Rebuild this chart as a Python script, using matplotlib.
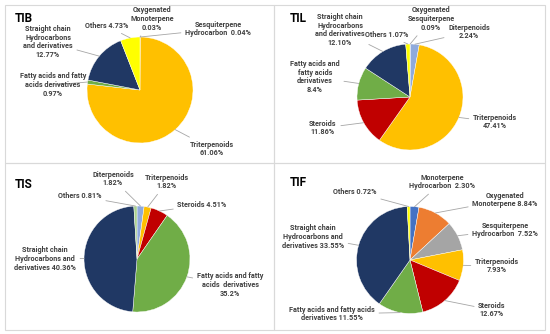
import matplotlib.pyplot as plt
from matplotlib.patches import Rectangle
import math

plt.rcParams['font.family'] = ['Roboto', 'DejaVu Sans']

# colours used in the charts
NAVY = '#203864'
GOLD = '#FFC000'
GREEN = '#70AD47'
RED = '#C00000'
YELLOW = '#FFFF00'
LBLUE = '#8FAADC'
ORANGE = '#ED7D31'
GRAY = '#A5A5A5'
MBLUE = '#4472C4'
LGREEN = '#A9D18E'

# TIB
tib_labels = ['Oxygenated\nMonoterpene\n0.03%', 'Sesquiterpene\nHydrocarbon  0.04%',
              'Triterpenoids\n61.06%', 'Fatty acids and fatty\nacids derivatives\n0.97%',
              'Straight chain\nHydrocarbons\nand derivatives\n12.77%', 'Others 4.73%']
tib_values = [0.03, 0.04, 61.06, 0.97, 12.77, 4.73]
tib_colors = [ORANGE, GRAY, GOLD, GREEN, NAVY, YELLOW]

# TIL
til_labels = ['Oxygenated\nSesquiterpene\n0.09%', 'Diterpenoids\n2.24%', 'Triterpenoids\n47.41%',
              'Steroids\n11.86%', 'Fatty acids and\nfatty acids\nderivatives\n8.4%',
              'Straight chain\nHydrocarbons\nand derivatives\n12.10%', 'Others 1.07%']
til_values = [0.09, 2.24, 47.41, 11.86, 8.4, 12.10, 1.07]
til_colors = [GRAY, LBLUE, GOLD, RED, GREEN, NAVY, YELLOW]

# TIS
tis_labels = ['Diterpenoids\n1.82%', 'Triterpenoids\n1.82%', 'Steroids 4.51%',
              'Fatty acids and fatty\nacids  derivatives\n35.2%',
              'Straight chain\nHydrocarbons and\nderivatives 40.36%', 'Others 0.81%']
tis_values = [1.82, 1.82, 4.51, 35.2, 40.36, 0.81]
tis_colors = [LBLUE, GOLD, RED, GREEN, NAVY, LGREEN]

# TIF
tif_labels = ['Monoterpene\nHydrocarbon  2.30%', 'Oxygenated\nMonoterpene 8.84%',
              'Sesquiterpene\nHydrocarbon  7.52%', 'Triterpenoids\n7.93%', 'Steroids\n12.67%',
              'Fatty acids and fatty acids\nderivatives 11.55%',
              'Straight chain\nHydrocarbons and\nderivatives 33.55%', 'Others 0.72%']
tif_values = [2.30, 8.84, 7.52, 7.93, 12.67, 11.55, 33.55, 0.72]
tif_colors = [MBLUE, ORANGE, GRAY, GOLD, RED, GREEN, NAVY, YELLOW]

W, H = 550, 334
fig = plt.figure(figsize=(5.5, 3.34), dpi=100)
ax = fig.add_axes([0, 0, 1, 1])

def draw_panel(title, title_xy, labels, values, colors, center, r, label_xy):
    cx, cy = center[0], H - center[1]
    ax.pie(values, colors=colors, startangle=90, counterclock=False,
           center=(cx, cy), radius=r, frame=True,
           wedgeprops=dict(edgecolor='white', linewidth=0.3))
    ax.text(title_xy[0], H - title_xy[1], title, fontsize=8.5, fontweight='bold',
            color='black', ha='left', va='center')
    total = sum(values)
    cum = 0
    for lab, v, (tx, ty) in zip(labels, values, label_xy):
        frac = v / total
        ang = math.radians(90 - 360 * (cum + frac / 2))
        cum += frac
        px = cx + r * math.cos(ang)
        py = cy + r * math.sin(ang)
        ax.annotate(lab, xy=(px, py), xytext=(tx, H - ty), fontsize=5.2,
                    fontweight='bold', color='#404040', ha='center', va='center',
                    multialignment='center', linespacing=1.15,
                    arrowprops=dict(arrowstyle='-', color='#A6A6A6', lw=0.6,
                                    shrinkA=1, shrinkB=0))

draw_panel('TIB', (15, 18), tib_labels, tib_values, tib_colors, (140, 90), 53,
           [(152, 19), (218, 29), (212, 149), (53, 85), (48, 42), (107, 26)])
draw_panel('TIL', (290, 18), til_labels, til_values, til_colors, (410, 97), 53,
           [(431, 19), (469, 32), (495, 122), (323, 128), (315, 77), (340, 30), (387, 35)])
draw_panel('TIS', (15, 184), tis_labels, tis_values, tis_colors, (137, 259), 53,
           [(113, 179), (167, 182), (202, 205), (230, 285), (45, 259), (80, 196)])
draw_panel('TIF', (290, 182), tif_labels, tif_values, tif_colors, (410, 260), 53.5,
           [(442, 182), (505, 200), (505, 230), (497, 266), (492, 310), (332, 314),
            (313, 237), (355, 192)])

# panel frames
for x0, x1 in [(5, 274), (274, 545)]:
    for y0, y1 in [(5, 163), (163, 330)]:
        ax.add_patch(Rectangle((x0, H - y1), x1 - x0, y1 - y0, fill=False,
                               edgecolor='#D9D9D9', lw=0.8))

ax.set_xlim(0, W)
ax.set_ylim(0, H)
ax.set_aspect('auto')
ax.axis('off')

plt.savefig('out.png', dpi=100, facecolor='white')
